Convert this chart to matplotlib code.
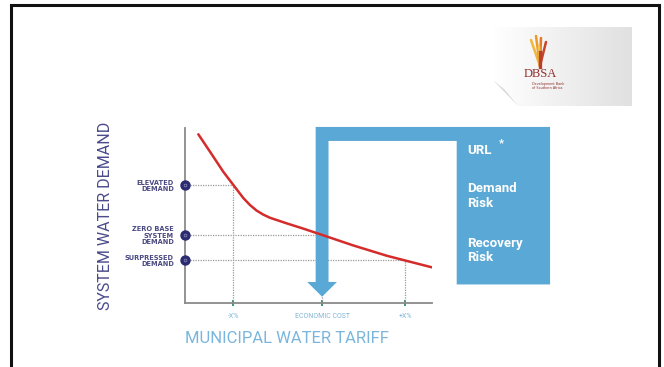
import matplotlib.pyplot as plt
import numpy as np
from matplotlib.patches import Polygon

# demand curve: municipal water tariff vs system water demand
tariff = [0.54, 1.01, 1.55, 1.96, 2.36, 2.63, 2.90, 3.17, 3.44, 4.12, 4.79, 5.55,
          6.81, 8.17, 8.91, 9.99]
demand = [9.64, 8.65, 7.50, 6.74, 6.00, 5.60, 5.28, 5.05, 4.87, 4.55, 4.25, 3.89,
          3.29, 2.70, 2.43, 2.04]

# reference points on the curve
tick_pos = [1.96, 5.55, 8.91]
tick_labels = ['-X%', 'ECONOMIC COST', '+X%']
level_vals = [6.74, 3.89, 2.43]
level_labels = ['ELEVATED\nDEMAND', 'ZERO BASE\nSYSTEM\nDEMAND', 'SURPRESSED\nDEMAND']

risk_lines = ['URL', 'Demand\nRisk', 'Recovery\nRisk']

W, H = 664, 367
fig = plt.figure(figsize=(W / 100, H / 100), dpi=100)

# overlay in pixel coords for the frame and logo
bg = fig.add_axes([0, 0, 1, 1])
bg.axis('off')
bg.plot([11, 11, 659, 659], [H + 5, 5, 5, H + 5], color='#111111', lw=2.2,
        solid_joinstyle='miter')

# logo card with gradient and page curl
grad = np.linspace(1.0, 0.88, 100).reshape(1, -1)
bg.imshow(np.dstack([grad, grad, grad]), extent=[493, 632, 106, 27], aspect='auto',
          zorder=1)
bg.add_patch(Polygon([[493, 80], [493, 106], [518, 106]], closed=True,
                     facecolor='white', edgecolor='none', zorder=2))
bg.add_patch(Polygon([[493, 80], [518, 106], [505, 90]], closed=True,
                     facecolor='#d8d8d8', edgecolor='none', zorder=2))
bg.set_xlim(0, W)
bg.set_ylim(H, 0)
# stylised tree
for dx, top, c in [(-9, 40, '#f2b63a'), (-4, 36, '#ee9a2a'), (1, 38, '#e07a25'),
                   (6, 42, '#c8452a'), (-1, 46, '#f4c24a')]:
    bg.plot([540, 540 + dx], [66, top], color=c, lw=1.8, solid_capstyle='round', zorder=3)
bg.plot([540, 540], [52, 67], color='#b8402a', lw=2.4, zorder=3)
bg.text(540, 74, 'DBSA', ha='center', va='center', fontsize=9, color='#8e2f2c',
        family='Liberation Serif', zorder=3)
bg.text(532, 86, 'Development Bank\nof Southern Africa', ha='left', va='center',
        fontsize=2.4, color='#8e2f2c', linespacing=1.2, zorder=3)

# main chart
ax = fig.add_axes([185 / W, 1 - 303 / H, 247 / W, 175 / H])
ax.set_xlim(0, 10)
ax.set_ylim(0, 10)
for s in ['top', 'right']:
    ax.spines[s].set_visible(False)
for s in ['left', 'bottom']:
    ax.spines[s].set_color('#8a8a8a')
    ax.spines[s].set_linewidth(1.3)

ax.plot(tariff, demand, color='#d42b2b', lw=1.8, zorder=4, solid_capstyle='round',
        solid_joinstyle='round')

for tx, lv in zip(tick_pos, level_vals):
    ax.plot([0, tx], [lv, lv], ls=(0, (1, 1)), color='#9a9a9a', lw=0.9, zorder=2)
    ax.plot([tx, tx], [0, lv], ls=(0, (1, 1)), color='#9a9a9a', lw=0.9, zorder=2)

ax.plot([0] * len(level_vals), level_vals, 'o', ms=6.5, color='#2b2b70',
        clip_on=False, zorder=6)
ax.plot([0] * len(level_vals), level_vals, 'o', ms=2, mfc='none', mec='#8f8fc0',
        mew=0.5, clip_on=False, zorder=7)

ax.set_xticks(tick_pos)
ax.set_xticklabels(tick_labels, fontsize=5, color='#80b6d8', family='Roboto')
ax.tick_params(axis='x', direction='inout', length=5, width=1.4, color='#3e9a6c', pad=5)
ax.set_yticks(level_vals)
ax.set_yticklabels(level_labels, fontsize=4.8, color='#4a4a82', fontweight='bold',
                   family=['Liberation Sans Narrow', 'DejaVu Sans'], linespacing=1.05)
ax.tick_params(axis='y', length=0, pad=8)

ax.set_xlabel('MUNICIPAL WATER TARIFF', fontsize=12, color='#7ab6dc', family='Roboto')
ax.xaxis.set_label_coords(0.413, -0.16)
ax.set_ylabel('SYSTEM WATER DEMAND', fontsize=11.5, color='#4b4b8c', family='Roboto')
ax.yaxis.set_label_coords(-0.29, 0.5)

# callout arrow pointing at the economic cost
e = tick_pos[1]
sw, hw = 0.26, 0.6
x_box0, x_box1 = 11.0, 14.78
y_top, y_bar, y_box0 = 10.06, 9.26, 1.06
y_head, y_tip = 1.2, 0.36
shape = [[e - sw, y_top], [x_box1, y_top], [x_box1, y_box0], [x_box0, y_box0],
         [x_box0, y_bar], [e + sw, y_bar], [e + sw, y_head], [e + hw, y_head],
         [e, y_tip], [e - hw, y_head], [e - sw, y_head]]
ax.add_patch(Polygon(shape, closed=True, facecolor='#5aa8d5', edgecolor='none',
                     clip_on=False, zorder=3))

ys = [8.7, 6.1, 3.0]
for y, t in zip(ys, risk_lines):
    ax.text(11.42, y, t, ha='left', va='center', fontsize=9.5, color='white',
            fontweight='bold', family='Roboto', linespacing=1.15, clip_on=False, zorder=5)
ax.text(12.72, 9.15, '*', ha='left', va='center', fontsize=8, color='white',
        fontweight='bold', family='Roboto', clip_on=False, zorder=5)

fig.savefig('out.png', dpi=100)
